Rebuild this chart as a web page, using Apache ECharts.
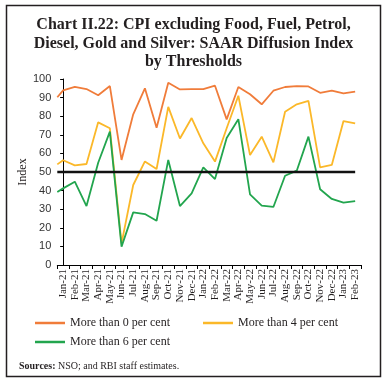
<!DOCTYPE html>
<html>
<head>
<meta charset="utf-8">
<script src="https://cdn.jsdelivr.net/npm/echarts@6/dist/echarts.min.js"></script>
<style>html,body{margin:0;padding:0;background:#fff;}#c{width:387px;height:387px;}</style>
</head>
<body>
<div id="c"></div>
<script>
const categories = ['Jan-21','Feb-21','Mar-21','Apr-21','May-21','Jun-21','Jul-21','Aug-21','Sep-21','Oct-21','Nov-21','Dec-21',
  'Jan-22','Feb-22','Mar-22','Apr-22','May-22','Jun-22','Jul-22','Aug-22','Sep-22','Oct-22','Nov-22','Dec-22','Jan-23','Feb-23'];
const more0 = [93.9,95.8,94.6,91.3,96.2,56.5,81,95,73.8,98,94.4,94.6,94.6,96.4,78.3,95.7,91.8,86.4,93.7,95.7,96.2,96,92.6,93.7,92.3,93.2];
const more4 = [56.3,53.6,54.3,76.7,73.5,11.6,43,55.7,51.6,85,68,79,65.4,55.6,73.5,91,59.1,69,55.2,82.4,86.4,88.2,52.5,53.8,77.4,76.2];
const more6 = [41.2,44.8,31.7,55,71.7,9.9,28.3,27.4,23.8,56.5,31.7,38.5,52.5,46.2,68.3,78.4,38,31.9,31.2,48,50.7,69,40.7,35.5,33.5,34.4];
// values where each line meets the y-axis (before Jan-21)
const axisStart = {more0: 90.2, more4: 54.1, more6: 39.3, threshold: 50};
const threshold = 50;
const seriesNames = ['More than 0 per cent','More than 4 per cent','More than 6 per cent'];
const yTicks = {min: 0, max: 100, interval: 10};

function toPoints(start, vals) {
  return [[-0.5, start]].concat(vals.map((v, i) => [i, v]));
}

const chart = echarts.init(document.getElementById('c'), null, {renderer: 'canvas'});
const serif = 'Liberation Serif';
const dark = '#231f20';
const colors = ['#f07c3a', '#fbb829', '#22a54e'];
const legendText = {fontFamily: serif, fontSize: 12, color: dark};

chart.setOption({
  animation: false,
  backgroundColor: '#fff',
  title: {
    text: 'Chart II.22: CPI excluding Food, Fuel, Petrol,\nDiesel, Gold and Silver: SAAR Diffusion Index\nby Thresholds',
    left: 'center', top: 11,
    textStyle: {fontFamily: serif, fontWeight: 'bold', fontSize: 16, lineHeight: 18.5, color: dark}
  },
  grid: {left: 57.3, right: 26, top: 79, bottom: 122, containLabel: false},
  legend: [
    {data: [seriesNames[0]], left: 35, top: 317, padding: 0, itemWidth: 30, itemHeight: 2.5, itemGap: 4, icon: 'rect', textStyle: legendText},
    {data: [seriesNames[1]], left: 203, top: 317, padding: 0, itemWidth: 30, itemHeight: 2.5, icon: 'rect', textStyle: legendText},
    {data: [seriesNames[2]], left: 35, top: 336, padding: 0, itemWidth: 30, itemHeight: 2.5, icon: 'rect', textStyle: legendText}
  ],
  xAxis: [
    {type: 'category', data: categories, boundaryGap: true,
     axisLine: {lineStyle: {color: '#000', width: 1}},
     axisTick: {show: true, length: 4, interval: 0, lineStyle: {color: '#000'}},
     axisLabel: {rotate: 90, interval: 0, fontFamily: serif, fontSize: 11, color: dark, margin: 4}},
    {type: 'value', min: -0.5, max: categories.length - 0.5, show: false}
  ],
  yAxis: {
    type: 'value', min: yTicks.min, max: yTicks.max, interval: yTicks.interval,
    name: 'Index', nameLocation: 'middle', nameGap: 28, nameRotate: 90, nameMoveOverlap: false,
    nameTextStyle: {fontFamily: serif, fontSize: 12, color: dark},
    axisLine: {show: true, lineStyle: {color: '#000', width: 1}},
    axisTick: {show: true, length: 3, lineStyle: {color: '#000'}},
    splitLine: {show: false},
    axisLabel: {fontFamily: 'Liberation Sans', fontSize: 11, color: '#333', margin: 6}
  },
  series: [
    {name: seriesNames[0], type: 'line', xAxisIndex: 1, data: toPoints(axisStart.more0, more0), symbol: 'none',
     lineStyle: {color: colors[0], width: 1.8}, itemStyle: {color: colors[0]}},
    {name: seriesNames[1], type: 'line', xAxisIndex: 1, data: toPoints(axisStart.more4, more4), symbol: 'none',
     lineStyle: {color: colors[1], width: 1.8}, itemStyle: {color: colors[1]}},
    {name: seriesNames[2], type: 'line', xAxisIndex: 1, data: toPoints(axisStart.more6, more6), symbol: 'none',
     lineStyle: {color: colors[2], width: 1.8}, itemStyle: {color: colors[2]}},
    {name: 'threshold', type: 'line', xAxisIndex: 1, data: toPoints(axisStart.threshold, categories.map(() => threshold)),
     symbol: 'none', lineStyle: {color: '#111', width: 2.5}, z: 5}
  ],
  graphic: [
    {type: 'rect', shape: {x: 6.5, y: 5.5, width: 374, height: 371}, style: {fill: 'none', stroke: dark, lineWidth: 1.5}, silent: true},
    {type: 'text', left: 19, top: 361, style: {
      text: '{b|Sources:} NSO; and RBI staff estimates.',
      rich: {b: {fontFamily: serif, fontWeight: 'bold', fontSize: 10, fill: dark}},
      fontFamily: serif, fontSize: 10, fill: dark}}
  ]
});
</script>
</body>
</html>
